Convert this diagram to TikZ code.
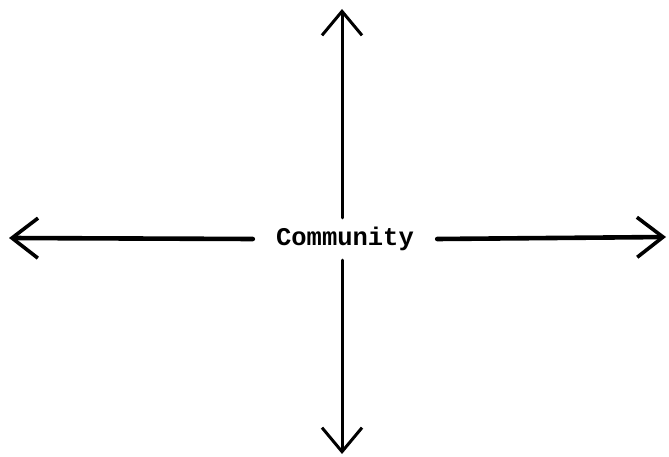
\documentclass[tikz,border=0pt]{standalone}
\usepackage{fontspec}
\newfontfamily\twfont{Liberation Mono}
\usetikzlibrary{arrows.meta}
\begin{document}
\begin{tikzpicture}[x=1pt,y=-1pt,
  arr/.style={-{Straight Barb[length=24pt,width=40pt,line width=3pt]}, line width=3pt, line cap=round},
  harr/.style={-{Straight Barb[length=26pt,width=40pt,line width=3.6pt]}, line width=4.6pt, line cap=round},
  label/.style={font=\twfont\bfseries\fontsize{25.5}{25.5}\selectfont, inner sep=0pt, minimum width=184pt, minimum height=42pt}]
\useasboundingbox (0,0) rectangle (669,457);
\node[label] (c) at (345,239) {Community};
\coordinate (t) at (342,9);
\coordinate (b) at (342,454);
\coordinate (l) at (9,238);
\coordinate (r) at (666,237);
\draw[arr] (c.north -| t) -- (t);
\draw[arr] (c.south -| b) -- (b);
\draw[harr] (c.west) -- (l);
\draw[harr] (c.east) -- (r);
\end{tikzpicture}
\end{document}
